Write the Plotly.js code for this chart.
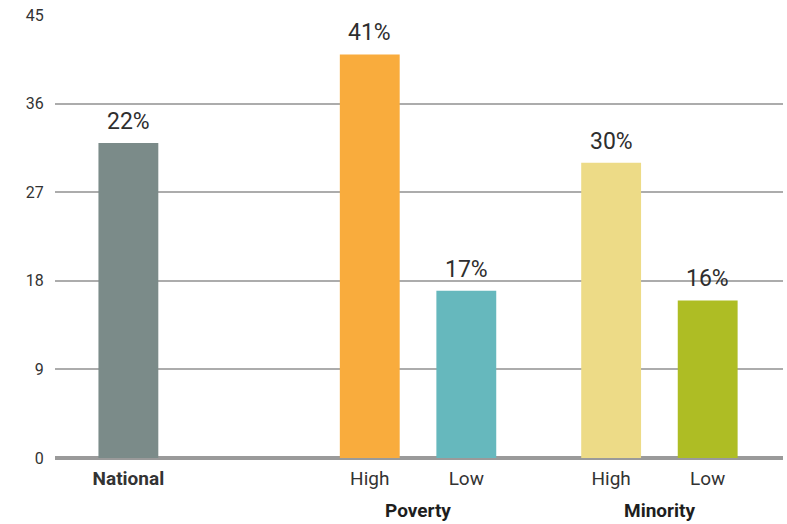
<!DOCTYPE html>
<html>
<head>
<meta charset="utf-8">
<script src="https://cdn.plot.ly/plotly-3.0.1.min.js"></script>
<style>
html,body{margin:0;padding:0;background:#fff;}
#chart{width:787px;height:524px;}
</style>
</head>
<body>
<div id="chart"></div>
<script>
// Data
const categories = ["National", "High", "Low", "High", "Low"];
const groups = ["", "Poverty", "Poverty", "Minority", "Minority"];
const values = [32, 41, 17, 30, 16];
const valueLabels = ["22%", "41%", "17%", "30%", "16%"];
const barColors = ["#7b8b89", "#f9ac3d", "#66b8bd", "#eddb87", "#aebd24"];
const yTicks = [0, 9, 18, 27, 36, 45];

// Layout positions (slots) for bars
const xPos = [0, 2.5, 3.5, 5, 6];

const FONT = "Roboto, 'Liberation Sans', sans-serif";

const tickText = categories.map((c, i) => groups[i] === "" ? "<b>" + c + "</b>" : c);

const trace = {
  type: "bar",
  x: xPos,
  y: values,
  width: 0.62,
  marker: {color: barColors, line: {width: 0}},
  hoverinfo: "skip"
};

const annotations = values.map((v, i) => ({
  x: xPos[i], y: v, text: valueLabels[i], showarrow: false,
  xanchor: "center", yanchor: "bottom", yshift: 6,
  font: {family: FONT, size: 23, color: "#2e2e2e"}
}));

// Group labels centred under each group
const uniqueGroups = [...new Set(groups.filter(g => g !== ""))];
uniqueGroups.forEach(g => {
  const idx = groups.map((gg, i) => gg === g ? i : -1).filter(i => i >= 0);
  const cx = idx.reduce((s, i) => s + xPos[i], 0) / idx.length;
  annotations.push({
    x: cx, y: 0, xref: "x", yref: "y", text: "<b>" + g + "</b>", showarrow: false,
    xanchor: "center", yanchor: "top", yshift: -39,
    font: {family: FONT, size: 19, color: "#1e1e1e"}
  });
});

const layout = {
  width: 787, height: 524,
  margin: {l: 55, r: 4, t: 15, b: 66},
  paper_bgcolor: "#ffffff", plot_bgcolor: "#ffffff",
  showlegend: false,
  font: {family: FONT},
  xaxis: {
    range: [-0.76, 6.78],
    tickmode: "array", tickvals: xPos, ticktext: tickText,
    tickfont: {family: FONT, size: 19, color: "#333333"},
    showgrid: false, zeroline: false, showline: false,
    ticks: "outside", ticklen: 3, tickcolor: "rgba(0,0,0,0)",
    fixedrange: true
  },
  yaxis: {
    range: [0, 45],
    tickmode: "array", tickvals: yTicks,
    tickfont: {family: FONT, size: 16, color: "#333333"},
    showgrid: true, gridcolor: "#acacac", gridwidth: 2,
    zeroline: true, zerolinecolor: "#9a9a9a", zerolinewidth: 4,
    showline: false,
    ticks: "outside", ticklen: 7, tickcolor: "rgba(0,0,0,0)",
    fixedrange: true
  },
  annotations: annotations
};

Plotly.newPlot("chart", [trace], layout, {displayModeBar: false, staticPlot: true});
</script>
</body>
</html>
